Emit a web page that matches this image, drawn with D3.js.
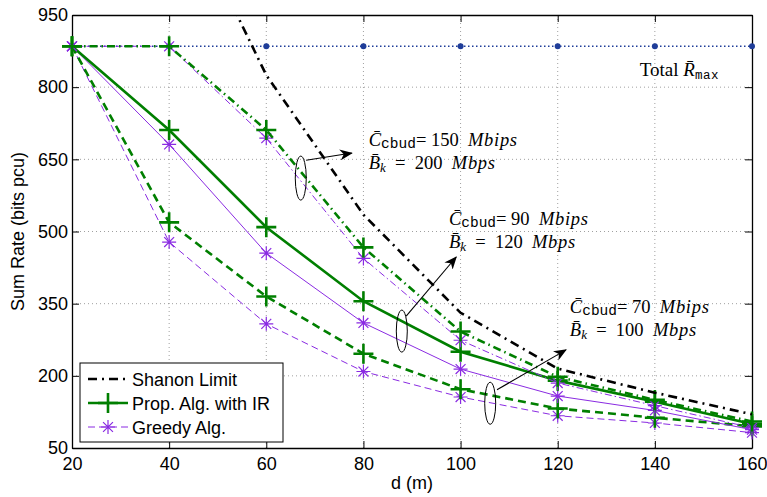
<!DOCTYPE html>
<html><head><meta charset="utf-8">
<script src="https://cdn.jsdelivr.net/npm/d3@7"></script>
<style>body{margin:0;background:#fff} svg{display:block}</style>
</head><body><svg id="c" width="767" height="497"></svg>
<script>
// ---- data ----
const dist = [20, 40, 60, 80, 100, 120, 140, 160];
const xTicks = [20, 40, 60, 80, 100, 120, 140, 160];
const yTicks = [50, 200, 350, 500, 650, 800, 950];
const shannonDist = [40, 60, 80, 100, 120, 140, 160];
const shannon = [1240, 825, 535, 331, 215, 165, 120];
const rMax = [885, 885, 885, 885, 885, 885, 885, 885];
const prop150 = [885, 885, 711, 467, 292, 198, 150, 105];
const greedy150 = [885, 885, 694, 444, 274, 185, 138, 92];
const prop90 = [885, 711, 509, 355, 250, 190, 146, 100];
const greedy90 = [885, 681, 455, 310, 214, 158, 128, 88];
const prop70 = [885, 519, 365, 246, 172, 132, 113, 95];
const greedy70 = [885, 478, 308, 209, 156, 117, 102, 82];
const legendLabels = ["Shanon Limit", "Prop. Alg. with IR", "Greedy Alg."];

// ---- setup ----
const W = 767, H = 497;
const m = {l: 72, r: 15, t: 15, b: 49};
const svg = d3.select("#c");
svg.append("rect").attr("width", W).attr("height", H).attr("fill", "#fff");
const x = d3.scaleLinear().domain([20, 160]).range([m.l, W - m.r]);
const y = d3.scaleLinear().domain([50, 950]).range([H - m.b, m.t]);
const sans = "'Liberation Sans', Arial, Helvetica, sans-serif";
const serif = "'Liberation Serif', 'DejaVu Serif', serif";
const mono = "'Liberation Mono', 'DejaVu Sans Mono', monospace";
const GREEN = "#007f00", PURPLE = "#8a2be2", BLUE = "#1f3d99";

const defs = svg.append("defs");
defs.append("clipPath").attr("id", "clip").append("rect")
  .attr("x", m.l).attr("y", m.t).attr("width", W - m.l - m.r).attr("height", H - m.t - m.b);
defs.append("marker").attr("id", "arr").attr("viewBox", "0 0 12 10")
  .attr("refX", 11).attr("refY", 5).attr("markerWidth", 13).attr("markerHeight", 11)
  .attr("markerUnits", "userSpaceOnUse").attr("orient", "auto")
  .append("path").attr("d", "M0,0 L12,5 L0,10 L3.5,5 Z").attr("fill", "#000");

// grid
const grid = svg.append("g");
grid.selectAll(".gx").data(xTicks.slice(1, -1)).join("line")
  .attr("x1", d => x(d)).attr("x2", d => x(d)).attr("y1", y(50)).attr("y2", y(950))
  .attr("stroke", "#888").attr("stroke-width", 0.8).attr("stroke-dasharray", "1,3");
grid.selectAll(".gy").data(yTicks.slice(1, -1)).join("line")
  .attr("y1", d => y(d)).attr("y2", d => y(d)).attr("x1", x(20)).attr("x2", x(160))
  .attr("stroke", "#888").attr("stroke-width", 0.8).attr("stroke-dasharray", "1,3");

// axes
const fontAxis = g => g.selectAll("text").attr("font-family", sans).attr("font-size", 18).attr("fill", "#000");
const ax = svg.append("g").attr("transform", `translate(0,${y(50)})`)
  .call(d3.axisBottom(x).tickValues(xTicks).tickSizeInner(-7).tickSizeOuter(0).tickPadding(9));
const ay = svg.append("g").attr("transform", `translate(${x(20)},0)`)
  .call(d3.axisLeft(y).tickValues(yTicks).tickSizeInner(-7).tickSizeOuter(0).tickPadding(4));
const axT = svg.append("g").attr("transform", `translate(0,${y(950)})`)
  .call(d3.axisTop(x).tickValues(xTicks).tickSizeInner(-7).tickSizeOuter(0).tickFormat(""));
const ayR = svg.append("g").attr("transform", `translate(${x(160)},0)`)
  .call(d3.axisRight(y).tickValues(yTicks).tickSizeInner(-7).tickSizeOuter(0).tickFormat(""));
[ax, ay, axT, ayR].forEach(g => { fontAxis(g); g.selectAll("path,line").attr("stroke", "#000").attr("stroke-width", 1); g.select(".domain").attr("stroke-width", 1.3); });

// series
const line = d3.line().x(d => x(d[0])).y(d => y(d[1]));
const plusPath = "M-10,0H10M0,-10V10";
const starPath = (() => { let p = ""; for (let i = 0; i < 4; i++) { const a = i * Math.PI / 4; const r = 7; p += `M${(-r*Math.cos(a)).toFixed(2)},${(-r*Math.sin(a)).toFixed(2)}L${(r*Math.cos(a)).toFixed(2)},${(r*Math.sin(a)).toFixed(2)}`; } return p; })();

const plotG = svg.append("g");
// Rmax
plotG.append("path").attr("d", line(dist.map((d, i) => [d, rMax[i]])))
  .attr("fill", "none").attr("stroke", BLUE).attr("stroke-width", 1.3).attr("stroke-dasharray", "1.5,2.5");
plotG.selectAll(".rd").data(dist).join("circle").attr("cx", d => x(d)).attr("cy", (d, i) => y(rMax[i]))
  .attr("r", 3).attr("fill", BLUE);

const series = [
  {v: greedy70, c: PURPLE, w: 1, dash: "7,4", mk: starPath},
  {v: prop70, c: GREEN, w: 2.6, dash: "8,5", mk: plusPath},
  {v: greedy90, c: PURPLE, w: 1, dash: null, mk: starPath},
  {v: prop90, c: GREEN, w: 2.6, dash: null, mk: plusPath},
  {v: greedy150, c: PURPLE, w: 1, dash: "7,3,1.5,3", mk: starPath},
  {v: prop150, c: GREEN, w: 2.6, dash: "8,4,1.5,4", mk: plusPath}
];
series.forEach(s => {
  plotG.append("path").attr("d", line(dist.map((d, i) => [d, s.v[i]])))
    .attr("fill", "none").attr("stroke", s.c).attr("stroke-width", s.w)
    .attr("stroke-dasharray", s.dash);
  plotG.selectAll(null).data(dist).join("path")
    .attr("transform", (d, i) => `translate(${x(d)},${y(s.v[i])})`)
    .attr("d", s.mk).attr("fill", "none").attr("stroke", s.c).attr("stroke-width", s.mk === plusPath ? 2.6 : 1.2);
});
// Shannon
plotG.append("path").attr("clip-path", "url(#clip)")
  .attr("d", line(shannonDist.map((d, i) => [d, shannon[i]])))
  .attr("fill", "none").attr("stroke", "#000").attr("stroke-width", 2.6).attr("stroke-dasharray", "9,5,2,5");

// annotations (ellipses + arrows), positioned in data units
const ann = [
  {ex: 67.1, ey: 611, ry: 22, a: [68.2, 648, 77.6, 663], tx: 81.1, ty: 677, C: "150", B: "200"},
  {ex: 87.9, ey: 293, ry: 21, a: [88.8, 324, 99.1, 447], tx: 97.6, ty: 514, C: "90", B: "120"},
  {ex: 106.1, ey: 143, ry: 21, a: [107.5, 171, 121.7, 254], tx: 122.5, ty: 331, C: "70", B: "100"}
];
const annG = svg.append("g");
ann.forEach(a => {
  annG.append("ellipse").attr("cx", x(a.ex)).attr("cy", y(a.ey)).attr("rx", 5.5).attr("ry", a.ry)
    .attr("fill", "none").attr("stroke", "#000").attr("stroke-width", 1);
  annG.append("line").attr("x1", x(a.a[0])).attr("y1", y(a.a[1])).attr("x2", x(a.a[2])).attr("y2", y(a.a[3]))
    .attr("stroke", "#000").attr("stroke-width", 1.1).attr("marker-end", "url(#arr)");
  const t1 = annG.append("text").attr("x", x(a.tx)).attr("y", y(a.ty)).attr("font-family", serif).attr("font-size", 18.5);
  t1.append("tspan").attr("font-style", "italic").text("C\u0304");
  t1.append("tspan").attr("font-family", mono).attr("font-size", 14.5).attr("dy", 2).text("cbud");
  t1.append("tspan").attr("dy", -2).text("= " + a.C + "\u2002");
  t1.append("tspan").attr("font-style", "italic").attr("letter-spacing", 0.7).text("Mbips");
  const t2 = annG.append("text").attr("x", x(a.tx)).attr("y", y(a.ty) + 23).attr("font-family", serif).attr("font-size", 18.5);
  t2.append("tspan").attr("font-style", "italic").text("B\u0304");
  t2.append("tspan").attr("font-style", "italic").attr("font-size", 13).attr("dy", 3).text("k");
  t2.append("tspan").attr("dy", -3).text("\u2002=\u2002" + a.B + "\u2002");
  t2.append("tspan").attr("font-style", "italic").attr("letter-spacing", 0.7).text("Mbps");
});
const tr = annG.append("text").attr("x", x(136.9)).attr("y", y(823)).attr("font-family", serif).attr("font-size", 19);
tr.append("tspan").text("Total ");
tr.append("tspan").attr("font-style", "italic").text("R\u0304");
tr.append("tspan").attr("font-family", mono).attr("font-size", 12.5).attr("dy", 3).attr("letter-spacing", 0.5).text("max");

// axis labels
svg.append("text").attr("x", (x(20) + x(160)) / 2).attr("y", 489).attr("text-anchor", "middle")
  .attr("font-family", sans).attr("font-size", 18).text("d (m)");
svg.append("text").attr("transform", `translate(24,${(y(50) + y(950)) / 2}) rotate(-90)`).attr("text-anchor", "middle")
  .attr("font-family", sans).attr("font-size", 18).text("Sum Rate (bits pcu)");

// legend
const lg = svg.append("g").attr("transform", "translate(80,363)");
lg.append("rect").attr("width", 203).attr("height", 79).attr("fill", "#fff").attr("stroke", "#000").attr("stroke-width", 1);
const legItems = [
  {c: "#000", w: 2.4, dash: "9,5,2,5", mk: null},
  {c: GREEN, w: 2.6, dash: null, mk: plusPath},
  {c: PURPLE, w: 1, dash: "7,4", mk: starPath}
];
legItems.forEach((it, i) => {
  const yy = 16 + i * 24;
  lg.append("line").attr("x1", 8).attr("x2", 48).attr("y1", yy).attr("y2", yy)
    .attr("stroke", it.c).attr("stroke-width", it.w).attr("stroke-dasharray", it.dash);
  if (it.mk) lg.append("path").attr("transform", `translate(28,${yy})`).attr("d", it.mk)
    .attr("fill", "none").attr("stroke", it.c).attr("stroke-width", it.mk === plusPath ? 2.6 : 1.2);
  lg.append("text").attr("x", 52).attr("y", yy + 6.5).attr("font-family", sans).attr("font-size", 18).text(legendLabels[i]);
});
</script></body></html>
